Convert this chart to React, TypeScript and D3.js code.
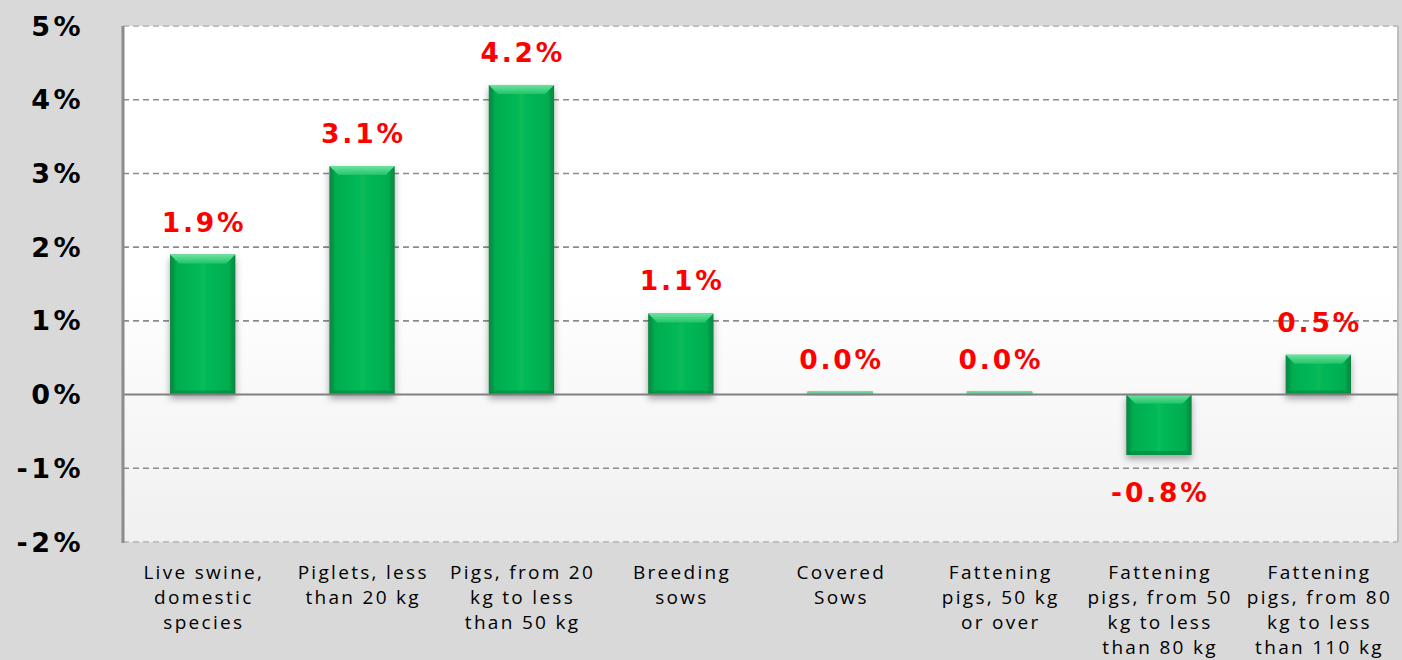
import React from "react";
import * as d3 from "d3";

const categories: string[][] = [
  ["Live swine,", "domestic", "species"],
  ["Piglets, less", "than 20 kg"],
  ["Pigs, from 20", "kg to less", "than 50 kg"],
  ["Breeding", "sows"],
  ["Covered", "Sows"],
  ["Fattening", "pigs, 50 kg", "or over"],
  ["Fattening", "pigs, from 50", "kg to less", "than 80 kg"],
  ["Fattening", "pigs, from 80", "kg to less", "than 110 kg"],
];
const values: number[] = [1.9, 3.1, 4.2, 1.1, 0.04, 0.04, -0.82, 0.54];
const yTicks: number[] = [5, 4, 3, 2, 1, 0, -1, -2];

const W = 1402;
const H = 660;
const M = { left: 123, right: 1398, top: 26, bottom: 542 };

export default function App() {
  const x = d3
    .scaleBand<number>()
    .domain(values.map((_, i) => i))
    .range([M.left, M.right])
    .paddingInner(0.59)
    .paddingOuter(0.295);
  const y = d3.scaleLinear().domain([-2, 5]).range([M.bottom, M.top]);
  const bw = x.bandwidth();
  const fmt = (v: number) => d3.format(".1f")(v).replace("\u2212", "-") + "%";

  return (
    <div style={{ position: "fixed", left: 0, top: 0, width: W, height: H }}>
      <svg width={W} height={H} style={{ display: "block" }}>
        <defs>
          <linearGradient id="plotBg" x1="0" y1="0" x2="0" y2="1">
            <stop offset="0" stopColor="#ffffff" />
            <stop offset="0.5" stopColor="#ffffff" />
            <stop offset="1" stopColor="#f0f0f0" />
          </linearGradient>
          <linearGradient id="barG" x1="0" y1="0" x2="1" y2="0">
            <stop offset="0" stopColor="#0a8240" />
            <stop offset="0.1" stopColor="#00ad4f" />
            <stop offset="0.5" stopColor="#07bb59" />
            <stop offset="0.9" stopColor="#00ad4f" />
            <stop offset="1" stopColor="#0a8240" />
          </linearGradient>
          <linearGradient id="bevelG" x1="0" y1="0" x2="0" y2="1">
            <stop offset="0" stopColor="#6be3a0" />
            <stop offset="1" stopColor="#22c468" />
          </linearGradient>
          <filter id="shadow" x="-30%" y="-30%" width="160%" height="160%">
            <feDropShadow dx="0" dy="4" stdDeviation="3.5" floodColor="#000" floodOpacity="0.35" />
          </filter>
        </defs>
        <rect x={0} y={0} width={W} height={H} fill="#d9d9d9" />
        <rect
          x={M.left}
          y={M.top}
          width={M.right - M.left}
          height={M.bottom - M.top}
          fill="url(#plotBg)"
        />
        {yTicks.map((t) =>
          t === 0 ? null : (
            <line
              key={t}
              x1={M.left}
              x2={M.right}
              y1={y(t)}
              y2={y(t)}
              stroke={t === 5 || t === -2 ? "#c0c0c0" : "#8c8c8c"}
              strokeWidth={t === 5 || t === -2 ? 2 : 1.6}
              strokeDasharray="6,4"
            />
          )
        )}
        <line x1={M.right} x2={M.right} y1={M.top} y2={M.bottom} stroke="#bfbfbf" strokeWidth={2} />
        {values.map((v, i) => {
          const x0 = x(i)!;
          const top = Math.min(y(v), y(0));
          const h = Math.abs(y(v) - y(0));
          const bev = Math.min(9, h / 2);
          return (
            <g key={i} filter="url(#shadow)">
              <rect x={x0} y={top} width={bw} height={h} fill="url(#barG)" />
              {h > 4 ? (
                <>
                  <polygon
                    points={`${x0},${top} ${x0 + bw},${top} ${x0 + bw - bev},${top + bev} ${x0 + bev},${top + bev}`}
                    fill="url(#bevelG)"
                  />
                  <polygon
                    points={`${x0},${top + h} ${x0 + bw},${top + h} ${x0 + bw - 4},${top + h - 4} ${x0 + 4},${top + h - 4}`}
                    fill="#078a40"
                    opacity={0.7}
                  />
                </>
              ) : (
                <rect x={x0} y={top} width={bw} height={h} fill="#6fd09a" />
              )}
            </g>
          );
        })}
        <line x1={M.left} x2={M.right} y1={y(0)} y2={y(0)} stroke="#808080" strokeWidth={2} />
        <line x1={M.left} x2={M.left} y1={M.top} y2={M.bottom + 1} stroke="#8c8c8c" strokeWidth={3} />
        {values.map((v, i) => {
          const cx = x(i)! + bw / 2 + 1.4;
          const ly = v >= 0 ? y(v) - 23 : y(v) + 47;
          return (
            <text
              key={i}
              x={cx}
              y={ly}
              textAnchor="middle"
              fontFamily="DejaVu Sans"
              fontWeight="bold"
              fontSize={26.5}
              letterSpacing={2.8}
              fill="#ff0000"
            >
              {fmt(v)}
            </text>
          );
        })}
        {yTicks.map((t) => (
          <text
            key={t}
            x={84}
            y={y(t) + 9.5}
            textAnchor="end"
            fontFamily="DejaVu Sans"
            fontWeight="bold"
            fontSize={27}
            letterSpacing={3.5}
            fill="#000"
          >
            {t + "%"}
          </text>
        ))}
        {categories.map((lines, i) => {
          const cx = x(i)! + bw / 2 + 1.15;
          return (
            <text
              key={i}
              textAnchor="middle"
              fontFamily="Open Sans"
              fontSize={19}
              letterSpacing={2.3}
              fill="#000"
            >
              {lines.map((l, j) => (
                <tspan key={j} x={cx} y={579 + j * 25}>
                  {l}
                </tspan>
              ))}
            </text>
          );
        })}
      </svg>
    </div>
  );
}
